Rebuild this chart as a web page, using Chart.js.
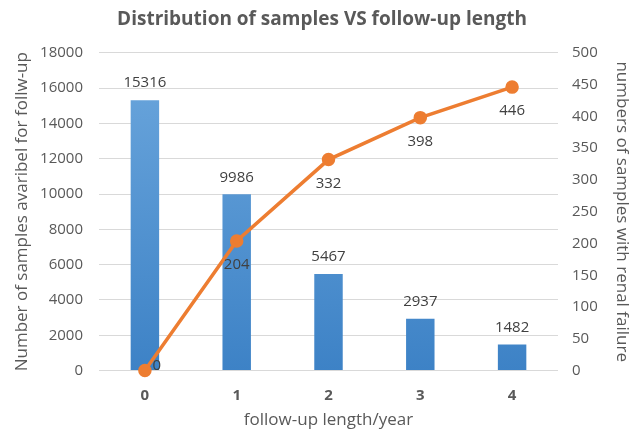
<!DOCTYPE html>
<html><head><meta charset="utf-8">
<script src="https://cdn.jsdelivr.net/npm/chart.js@4/dist/chart.umd.min.js"></script>
<style>html,body{margin:0;padding:0;background:#fff}#c{display:block}</style>
</head><body>
<canvas id="c" width="643" height="430"></canvas>
<script>
const categories = ['0', '1', '2', '3', '4'];
const samplesAvailable = [15316, 9986, 5467, 2937, 1482];
const renalFailure = [0, 204, 332, 398, 446];
const leftTicks = [0, 2000, 4000, 6000, 8000, 10000, 12000, 14000, 16000, 18000];
const rightTicks = [0, 50, 100, 150, 200, 250, 300, 350, 400, 450, 500];

const FONT = "'Open Sans', 'Noto Sans', sans-serif";
const GREY = '#595959';

const labelPlugin = {
  id: 'labels',
  afterDatasetsDraw(chart) {
    const ctx = chart.ctx;
    ctx.save();
    ctx.font = "15px " + FONT;
    ctx.fillStyle = '#404040';
    ctx.textAlign = 'center';
    const barMeta = chart.getDatasetMeta(1);
    barMeta.data.forEach((el, i) => {
      ctx.textBaseline = 'middle';
      ctx.fillText(String(samplesAvailable[i]), el.x, el.y - 17);
    });
    const lineMeta = chart.getDatasetMeta(0);
    lineMeta.data.forEach((el, i) => {
      ctx.textBaseline = 'middle';
      if (i === 0) {
        ctx.fillText(String(renalFailure[i]), el.x + 12, el.y - 5);
      } else {
        ctx.fillText(String(renalFailure[i]), el.x, el.y + 24);
      }
    });
    ctx.restore();
  }
};

const ctx = document.getElementById('c').getContext('2d');
new Chart(ctx, {
  data: {
    labels: categories,
    datasets: [
      {
        type: 'line',
        data: renalFailure,
        yAxisID: 'y1',
        borderColor: '#ED7D31',
        backgroundColor: '#ED7D31',
        borderWidth: 3.5,
        pointRadius: 5,
        pointBackgroundColor: '#ED7D31',
        pointBorderColor: '#ED7D31',
        tension: 0,
        order: 0,
        clip: false
      },
      {
        type: 'bar',
        data: samplesAvailable,
        yAxisID: 'y',
        backgroundColor: (c) => {
          const area = c.chart.chartArea;
          if (!area) return '#5B9BD5';
          const g = c.chart.ctx.createLinearGradient(0, area.top, 0, area.bottom);
          g.addColorStop(0, '#6CA7DD');
          g.addColorStop(1, '#3D82C6');
          return g;
        },
        barPercentage: 0.31,
        categoryPercentage: 1,
        order: 1
      }
    ]
  },
  options: {
    responsive: false,
    animation: false,
    layout: { padding: { top: 8, left: 12, right: 11, bottom: 0 } },
    plugins: {
      legend: { display: false },
      tooltip: { enabled: false },
      title: {
        display: true,
        text: 'Distribution of samples VS follow-up length',
        color: GREY,
        font: { family: FONT, size: 19, weight: 'bold' },
        padding: { top: 0, bottom: 22 }
      }
    },
    scales: {
      x: {
        grid: { display: false, drawTicks: false },
        border: { display: false },
        ticks: { color: GREY, font: { family: FONT, size: 15, weight: 'bold' }, padding: 16 },
        title: { display: true, text: 'follow-up length/year', color: GREY, font: { family: FONT, size: 17 }, padding: { top: -11, bottom: 0 } }
      },
      y: {
        position: 'left',
        min: 0, max: 18000,
        afterBuildTicks: (axis) => { axis.ticks = leftTicks.map(v => ({ value: v })); },
        afterFit: (axis) => { axis.width = 87; },
        grid: { color: '#D9D9D9', lineWidth: 1, drawTicks: false },
        border: { display: false },
        ticks: { color: GREY, font: { family: FONT, size: 15 }, padding: 16, callback: (v) => String(v) },
        title: { display: true, text: 'Number of samples avaribel for follw-up', color: GREY, font: { family: FONT, size: 17 }, padding: { top: 0, bottom: 8 } }
      },
      y1: {
        position: 'right',
        min: 0, max: 500,
        afterBuildTicks: (axis) => { axis.ticks = rightTicks.map(v => ({ value: v })); },
        afterFit: (axis) => { axis.width = 74; },
        grid: { display: false, drawTicks: false },
        border: { display: false },
        ticks: { color: GREY, font: { family: FONT, size: 15 }, padding: 14, callback: (v) => String(v) },
        title: { display: true, text: 'numbers of samples with renal failure', color: GREY, font: { family: FONT, size: 17 }, padding: { top: 0, bottom: 0 } }
      }
    }
  },
  plugins: [labelPlugin]
});
</script>
</body></html>
